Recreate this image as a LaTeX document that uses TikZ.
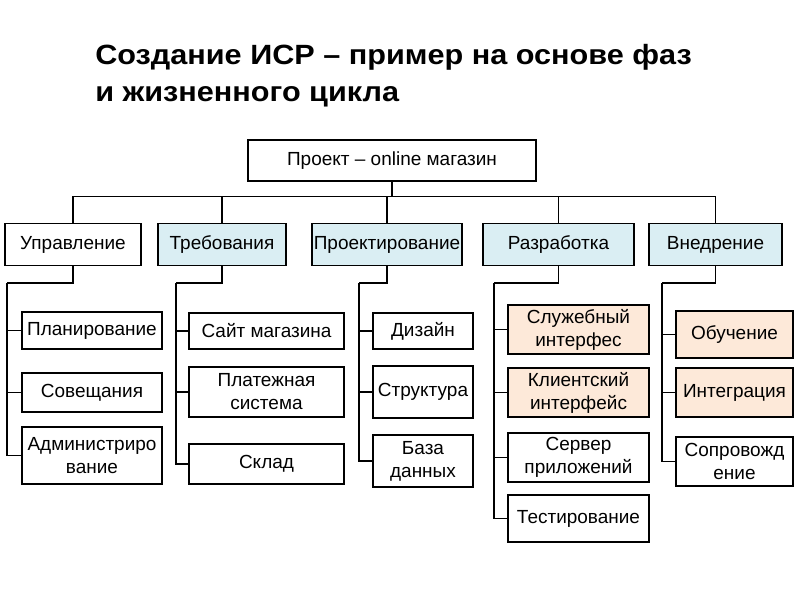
\documentclass[tikz,border=0pt]{standalone}
\usepackage{fontspec}
\setmainfont{Liberation Sans}
\newfontfamily\titlefont[FakeStretch=1.1]{Liberation Sans}
\usetikzlibrary{calc, positioning}
\definecolor{phaseblue}{HTML}{DAEEF3}
\definecolor{workpeach}{HTML}{FDE9D9}
\tikzset{
box/.style={draw, line width=1pt, align=center, inner sep=1pt, font=\fontsize{13.5}{16.4}\selectfont}, % every box of the tree
phase/.style={box, fill=phaseblue}, % coloured phases
work/.style={box, fill=workpeach}, % coloured work packages
link/.style={line width=1.1pt}, % tree lines
title/.style={anchor=base west, inner sep=0pt, font=\titlefont\bfseries\fontsize{19.8}{27.7}\selectfont},
}

\begin{document}
\begin{tikzpicture}[x=0.025cm, y=-0.025cm]% one unit is one pixel, y runs downwards
  \useasboundingbox (0,0) rectangle (800,600);

  \node[title] (t1) at (95,64) {Создание ИСР – пример на основе фаз};
  \node[title] (t2) at (95,101) {и жизненного цикла};

  % root and phases
  \node[box, minimum width=7.2cm, minimum height=1.025cm] (proj) at (392,160.5) {Проект – online магазин};
  \node[box, minimum width=3.4cm, minimum height=1.05cm] (upr) at (73,244.5) {Управление};
  \node[phase, minimum width=3.2cm, minimum height=1.05cm] (treb) at (222,244.5) {Требования};
  \node[phase, minimum width=3.75cm, minimum height=1.05cm] (proekt) at (387,244.5) {Проектирование};
  \node[phase, minimum width=3.775cm, minimum height=1.05cm] (razr) at (558.5,244.5) {Разработка};
  \node[phase, minimum width=3.325cm, minimum height=1.05cm] (vned) at (715.5,244.5) {Внедрение};

  % Управление
  \node[box, minimum width=3.5cm, minimum height=0.925cm] (plan) at (92,330.5) {Планирование};
  \node[box, minimum width=3.5cm, minimum height=0.975cm] (sov) at (92,392.5) {Совещания};
  \node[box, minimum width=3.5cm, minimum height=1.425cm] (adm) at (92,455.5) {Администриро\\вание};

  % Требования
  \node[box, minimum width=3.875cm, minimum height=0.9cm] (sajt) at (266.5,331) {Сайт магазина};
  \node[box, minimum width=3.875cm, minimum height=1.25cm] (plat) at (266.5,392) {Платежная\\система};
  \node[box, minimum width=3.875cm, minimum height=1cm] (sklad) at (266.5,464) {Склад};

  % Проектирование
  \node[box, minimum width=2.5cm, minimum height=0.9cm] (diz) at (423,331) {Дизайн};
  \node[box, minimum width=2.5cm, minimum height=1.3cm] (strukt) at (423,392) {Структура};
  \node[box, minimum width=2.5cm, minimum height=1.3cm] (baza) at (423,461) {База\\данных};

  % Разработка
  \node[work, minimum width=3.525cm, minimum height=1.225cm] (sluzh) at (578.5,329.5) {Служебный\\интерфес};
  \node[work, minimum width=3.525cm, minimum height=1.225cm] (klient) at (578.5,392.5) {Клиентский\\интерфейс};
  \node[box, minimum width=3.525cm, minimum height=1.225cm] (server) at (578.5,457.5) {Сервер\\приложений};
  \node[box, minimum width=3.525cm, minimum height=1.175cm] (test) at (578.5,518.5) {Тестирование};

  % Внедрение
  \node[work, minimum width=2.925cm, minimum height=1.175cm] (obuch) at (734.5,334.5) {Обучение};
  \node[work, minimum width=2.925cm, minimum height=1.225cm] (integr) at (734.5,392.5) {Интеграция};
  \node[box, minimum width=2.925cm, minimum height=1.225cm] (soprov) at (734.5,461.5) {Сопровожд\\ение};

  % spines of the columns
  \coordinate (sp1) at (7,283);
  \coordinate (sp2) at (176,283);
  \coordinate (sp3) at (359,283);
  \coordinate (sp4) at (494,283);
  \coordinate (sp5) at (662,283);

  \foreach \ph in {upr,treb,proekt,razr,vned}
    \draw[link] (proj.south) -- ++(0,15) -| (\ph.north);

  \draw[link] (upr.south) |- (sp1);
  \draw[link] (treb.south) |- (sp2);
  \draw[link] (proekt.south) |- (sp3);
  \draw[link] (razr.south) |- (sp4);
  \draw[link] (vned.south) |- (sp5);

  \foreach \ch in {plan,sov,adm} \draw[link] (sp1) |- (\ch.west);
  \foreach \ch in {sajt,plat,sklad} \draw[link] (sp2) |- (\ch.west);
  \foreach \ch in {diz,strukt,baza} \draw[link] (sp3) |- (\ch.west);
  \foreach \ch in {sluzh,klient,server,test} \draw[link] (sp4) |- (\ch.west);
  \foreach \ch in {obuch,integr,soprov} \draw[link] (sp5) |- (\ch.west);
\end{tikzpicture}
\end{document}
